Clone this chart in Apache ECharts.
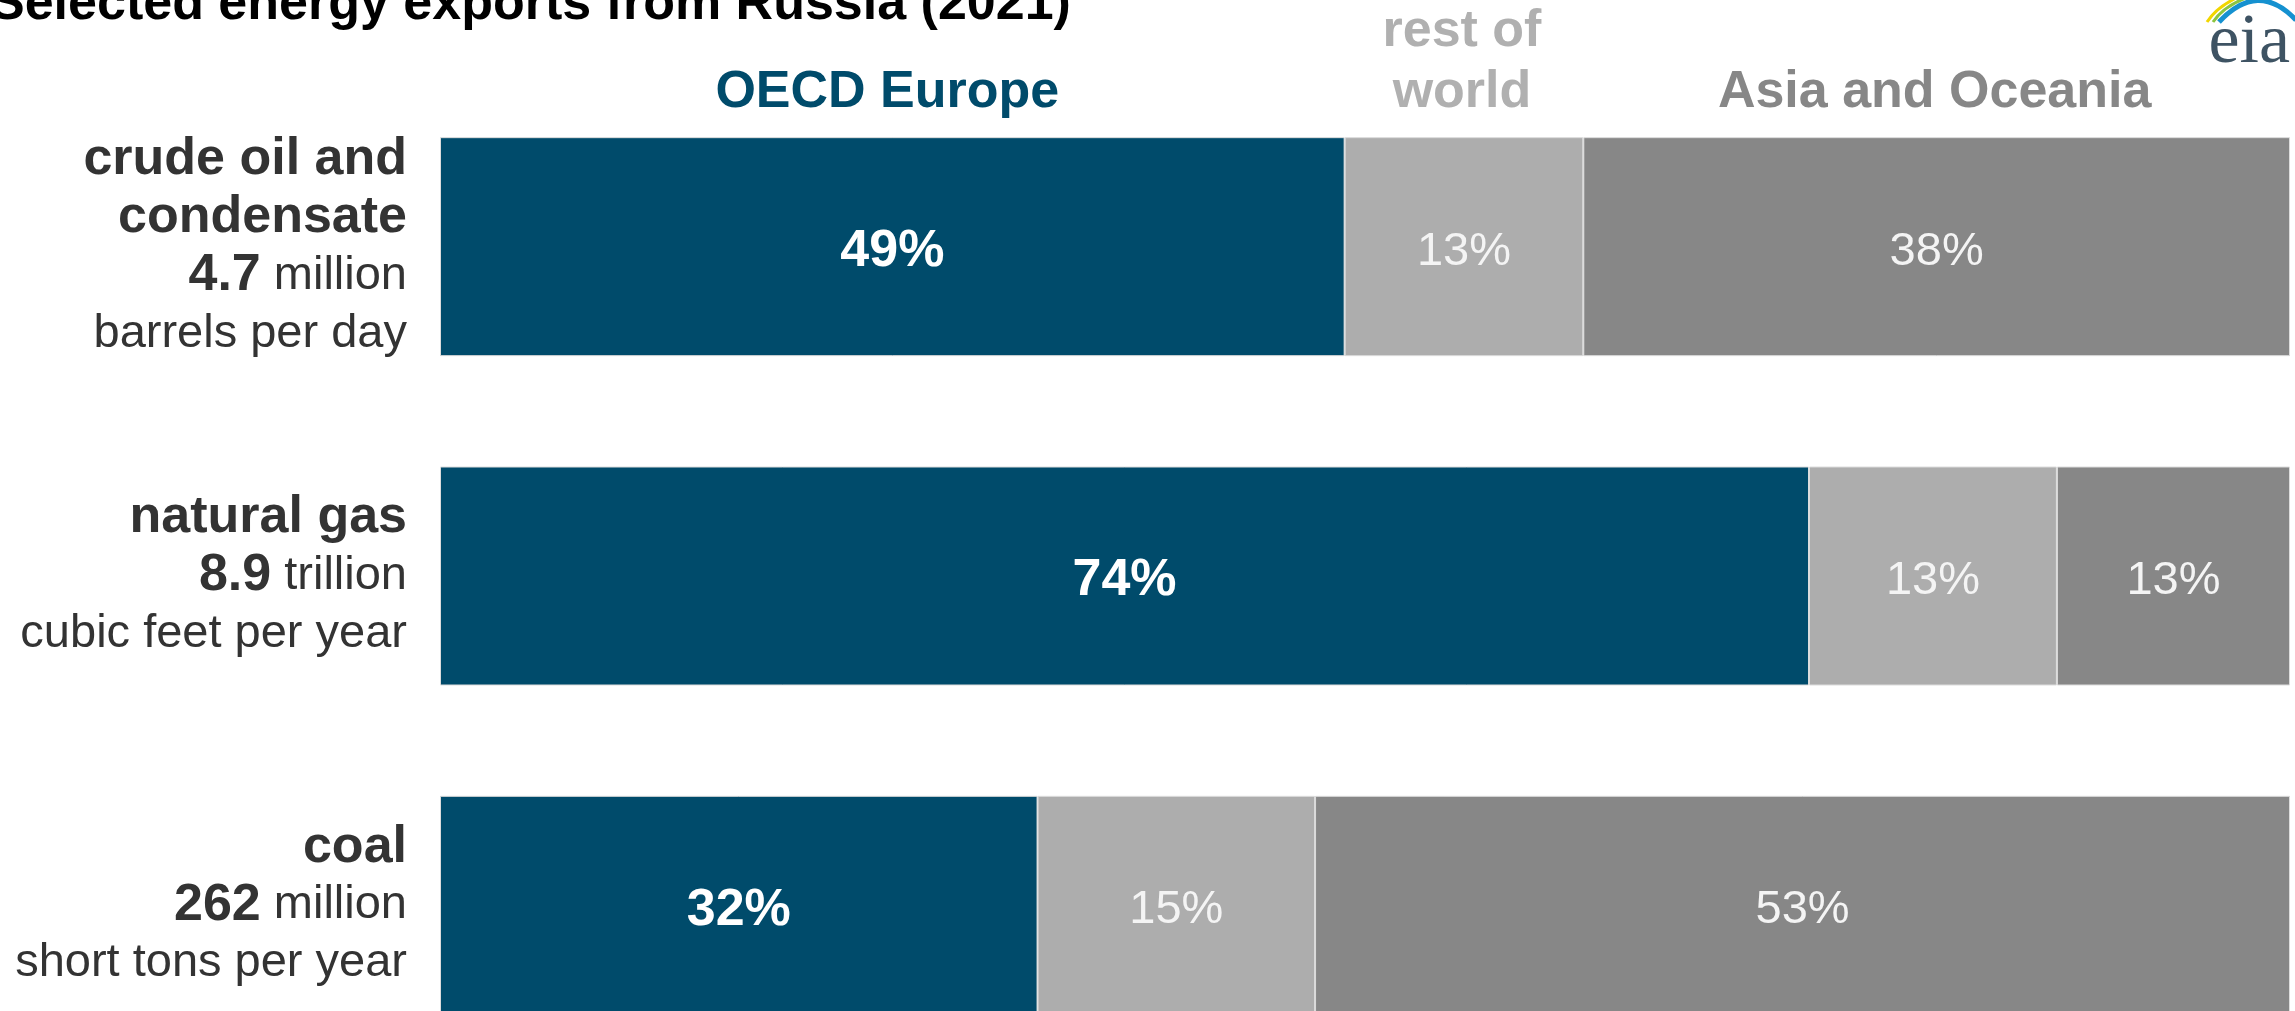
<!DOCTYPE html>
<html>
<head>
<meta charset="utf-8">
<script src="https://cdn.jsdelivr.net/npm/echarts@6/dist/echarts.min.js"></script>
<style>
  html, body { margin: 0; padding: 0; background: #fff; overflow: hidden; }
  /* taller than the window: the last bar runs off the bottom edge like the source */
  #chart { width: 2295px; height: 1070px; }
</style>
</head>
<body>
<div id="chart"></div>
<script>
// category label lines (bold name, bold volume + unit, unit line)
var nameLines = [["crude oil and", "condensate"], ["natural gas"], ["coal"]];
var categories = ["crude oil and condensate", "natural gas", "coal"];
var volumes = ["4.7", "8.9", "262"];
var units = ["million", "trillion", "million"];
var unitLines = ["barrels per day", "cubic feet per year", "short tons per year"];

var regions = ["OECD Europe", "rest of\nworld", "Asia and Oceania"];
var regionColors = ["#004b6b", "#adadad", "#878787"];
var headerColors = ["#004b6b", "#b0b0b0", "#878787"];

// shares in percent
var oecdEurope = [48.9, 74.0, 32.3];
var restOfWorld = [12.9, 13.4, 15.0];
var asiaOceania = [38.2, 12.6, 52.7];

var FONT = "'Liberation Sans', Arial, sans-serif";

var myChart = echarts.init(document.getElementById("chart"));

function seriesFor(idx, data) {
  var bold = idx === 0;
  return {
    name: regions[idx],
    type: "bar",
    stack: "total",
    barWidth: 219,
    data: data,
    itemStyle: { color: regionColors[idx], borderColor: "#dcdcdc", borderWidth: 1 },
    label: {
      show: true,
      position: "inside",
      offset: [0, 5],
      formatter: function(p) { return Math.round(p.value) + "%"; },
      color: bold ? "#ffffff" : "#f4f4f4",
      fontFamily: FONT,
      fontWeight: bold ? "bold" : "normal",
      fontSize: bold ? 52 : 47
    },
    silent: true
  };
}

myChart.setOption({
  animation: false,
  grid: { left: 440, right: 5, top: 82, height: 988 },
  xAxis: {
    type: "value",
    min: 0,
    max: 100,
    show: false
  },
  yAxis: {
    type: "category",
    inverse: true,
    data: categories,
    axisLine: { show: false },
    axisTick: { show: false },
    axisLabel: {
      margin: 33,
      align: "right",
      formatter: function(v, i) {
        var out = nameLines[i].map(function(s) { return "{b|" + s + "}"; });
        out.push("{b|" + volumes[i] + "}{r| " + units[i] + "}");
        out.push("{r|" + unitLines[i] + "}");
        return out.join("\n");
      },
      rich: {
        b: { fontFamily: FONT, fontWeight: "bold", fontSize: 52, lineHeight: 58, color: "#333333" },
        r: { fontFamily: FONT, fontSize: 47, lineHeight: 58, color: "#333333" }
      }
    }
  },
  series: [
    seriesFor(0, oecdEurope),
    seriesFor(1, restOfWorld),
    seriesFor(2, asiaOceania)
  ]
});

// column headers centred over the first bar's segments
var firstRow = [oecdEurope[0], restOfWorld[0], asiaOceania[0]];
var graphics = [];
var acc = 0;
firstRow.forEach(function(v, i) {
  var mid = acc + v / 2;
  acc += v;
  var x = myChart.convertToPixel({ xAxisIndex: 0 }, mid);
  graphics.push({
    type: "text",
    x: i === 0 ? x - 5 : x - 2,
    y: 123,
    style: {
      text: regions[i],
      fill: headerColors[i],
      font: "bold 52px " + FONT,
      lineHeight: 61,
      align: "center",
      verticalAlign: "bottom"
    }
  });
});

// title (clipped at the top like the source)
graphics.push({
  type: "text",
  x: -10,
  y: 5,
  style: {
    text: "Selected energy exports from Russia (2021)",
    fill: "#000000",
    font: "bold 52px " + FONT,
    verticalAlign: "middle"
  }
});

// eia logo
graphics.push({
  type: "text",
  x: 2290,
  y: 79,
  style: {
    text: "eia",
    fill: "#3e5363",
    font: "70px 'Liberation Serif', 'DejaVu Serif', serif",
    align: "right",
    verticalAlign: "bottom"
  }
});
graphics.push({
  type: "bezierCurve",
  shape: { x1: 2207, y1: 22, x2: 2236, y2: -2, cpx1: 2216, cpy1: 8 },
  style: { stroke: "#f2d600", lineWidth: 3, fill: null }
});
graphics.push({
  type: "bezierCurve",
  shape: { x1: 2213, y1: 22, x2: 2246, y2: -2, cpx1: 2224, cpy1: 6 },
  style: { stroke: "#8cc540", lineWidth: 3, fill: null }
});
graphics.push({
  type: "bezierCurve",
  shape: { x1: 2219, y1: 22, x2: 2296, y2: 20, cpx1: 2258, cpy1: -20 },
  style: { stroke: "#1591d0", lineWidth: 5, fill: null }
});

myChart.setOption({ graphic: graphics });
</script>
</body>
</html>
